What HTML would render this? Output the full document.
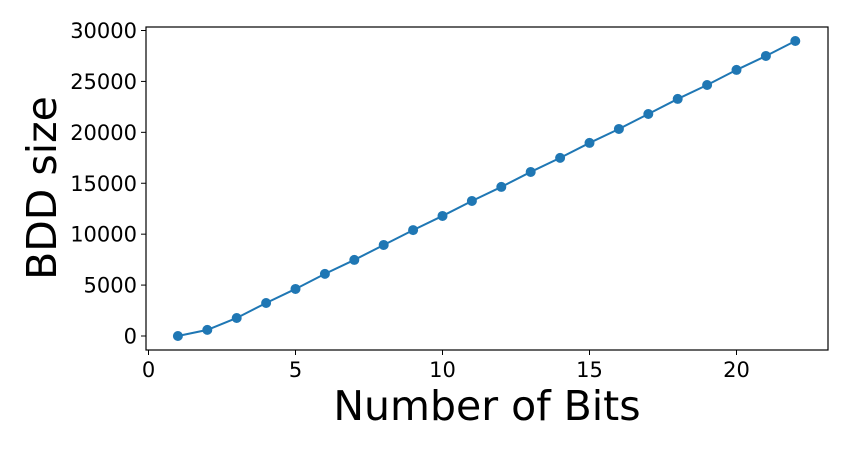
<!DOCTYPE html>
<html><head><meta charset="utf-8"><style>
body{margin:0;background:#fff}
svg text{font-family:"DejaVu Sans","Liberation Sans",sans-serif;fill:#000}
</style></head><body>
<svg width="850" height="450" xmlns="http://www.w3.org/2000/svg">
<g id="plot"></g>
</svg>
<script>
const bits=[1,2,3,4,5,6,7,8,9,10,11,12,13,14,15,16,17,18,19,20,21,22];
const sizes=[0,600,1770,3240,4620,6100,7470,8940,10400,11790,13260,14640,16110,17490,18960,20330,21800,23280,24650,26130,27500,28970];
const xTicks=[0,5,10,15,20];
const yTicks=[0,5000,10000,15000,20000,25000,30000];
const L=146,R=828,T=27,B=350;
const xs=v=>148.5+(v-0)*29.4;
const ys=v=>336-v*(305.5/30000);
const NS="http://www.w3.org/2000/svg";
const g=document.getElementById('plot');
function mk(t,a,p){const e=document.createElementNS(NS,t);for(const k in a)e.setAttribute(k,a[k]);(p||g).appendChild(e);return e;}
const frame=mk('rect',{x:L,y:T,width:R-L,height:B-T,fill:'none',stroke:'#000','stroke-width':1.2});


xTicks.forEach(v=>{
  const x=xs(v);
  const tk=mk('line',{x1:x,x2:x,y1:B,y2:B+5,stroke:'#000','stroke-width':1});
  
  
  const t=mk('text',{x:x,y:B+27,'text-anchor':'middle','font-size':21});
  t.textContent=v;
  
  
});
yTicks.forEach(v=>{
  const y=ys(v);
  const tk=mk('line',{x1:L,x2:L-5,y1:y,y2:y,stroke:'#000','stroke-width':1});
  
  
  const t=mk('text',{x:L-9,y:y+7.5,'text-anchor':'end','font-size':21});
  t.textContent=v;
  
  
});
const line=mk('polyline',{points:bits.map((b,i)=>xs(b)+','+ys(sizes[i])).join(' '),fill:'none',stroke:'#1f77b4','stroke-width':2});


bits.forEach((b,i)=>{
  const c=mk('circle',{cx:xs(b),cy:ys(sizes[i]),r:5,fill:'#1f77b4'});
  
  
});
const xl=mk('text',{x:487,y:420,'text-anchor':'middle','font-size':41});
xl.textContent='Number of Bits';


const yl=mk('text',{x:0,y:0,'text-anchor':'middle','font-size':41,transform:'translate(56,188) rotate(-90)'});
yl.textContent='BDD size';


</script>
</body></html>
